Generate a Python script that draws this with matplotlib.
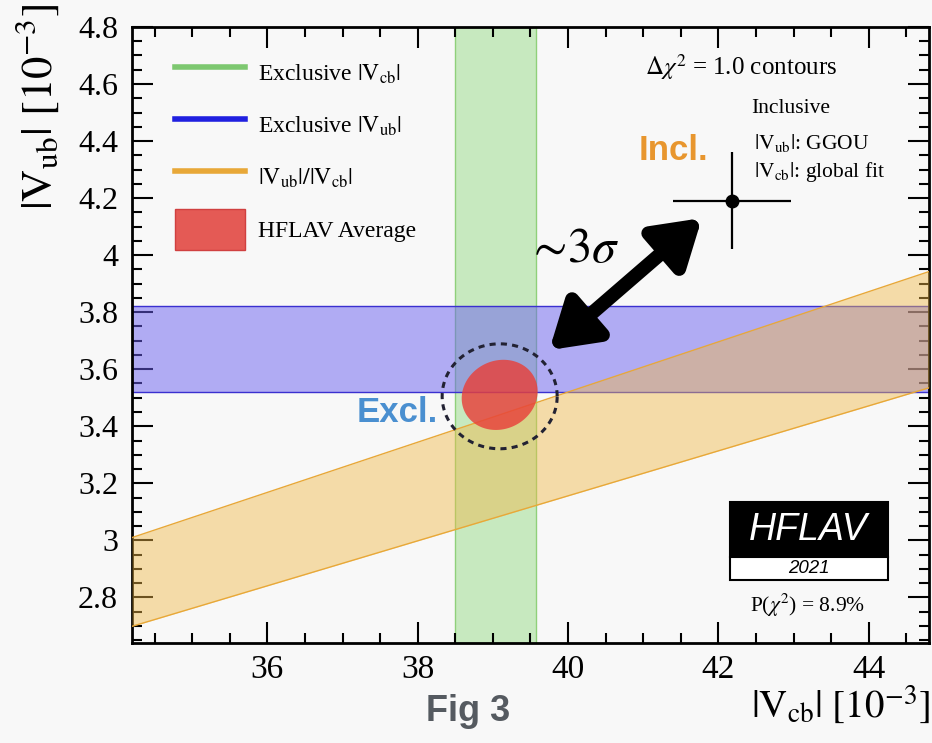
import numpy as np
import matplotlib
matplotlib.use("Agg")
import matplotlib.pyplot as plt
from matplotlib.lines import Line2D
from matplotlib.patches import Patch, Rectangle
from matplotlib.ticker import MultipleLocator, FuncFormatter

plt.rcParams['font.family'] = ['Liberation Serif', 'DejaVu Serif']
plt.rcParams['mathtext.fontset'] = 'stix'

# --- values (units of 1e-3) ---
vcb_excl = (38.49, 39.57)          # exclusive |Vcb| band
vub_excl = (3.52, 3.82)            # exclusive |Vub| band
ratio_band = (0.0789, 0.0880)      # |Vub|/|Vcb| band (lines through origin)
avg_center = (39.09, 3.51)         # HFLAV average
avg_sigma = (0.505, 0.123)
avg_rho = 0.1
circle_center = (39.09, 3.505)     # dashed "Excl." contour
circle_radius = (0.765, 0.184)
incl_point = (42.18, 4.19)         # inclusive
incl_err = (0.79, 0.17)
arrow_from = (39.75, 3.667)
arrow_to = (41.78, 4.130)

xlim = (34.2, 44.8)
ylim = (2.64, 4.8)

bg = '#f8f8f8'
fig = plt.figure(figsize=(9.32, 7.43), dpi=100, facecolor=bg)
ax = fig.add_axes([0.1416, 0.1346, 0.8552, 0.8291], facecolor=bg)
ax.set_xlim(*xlim)
ax.set_ylim(*ylim)

# bands
ax.axvspan(vcb_excl[0], vcb_excl[1], color='#7ed36a', alpha=0.4, lw=0, zorder=1)
ax.axvline(vcb_excl[0], color='#8fd07a', lw=1, zorder=1)
ax.axvline(vcb_excl[1], color='#8fd07a', lw=1, zorder=1)
ax.axhspan(vub_excl[0], vub_excl[1], color='#6a5ff0', alpha=0.5, lw=0, zorder=2)
ax.axhline(vub_excl[0], color='#3a30d0', lw=1, zorder=2)
ax.axhline(vub_excl[1], color='#3a30d0', lw=1, zorder=2)

xx = np.array(xlim)
ax.fill_between(xx, ratio_band[0] * xx, ratio_band[1] * xx,
                color='#f0b848', alpha=0.45, lw=0, zorder=3)
ax.plot(xx, ratio_band[0] * xx, color='#e8a838', lw=1, zorder=3)
ax.plot(xx, ratio_band[1] * xx, color='#e8a838', lw=1, zorder=3)

# HFLAV average ellipse
t = np.linspace(0, 2 * np.pi, 300)
ex = avg_center[0] + avg_sigma[0] * np.cos(t)
ey = avg_center[1] + avg_sigma[1] * (avg_rho * np.cos(t) + np.sqrt(1 - avg_rho ** 2) * np.sin(t))
ax.fill(ex, ey, color='#e8403a', alpha=0.82, lw=0, zorder=4)

# dashed contour
cx = circle_center[0] + circle_radius[0] * np.cos(t)
cy = circle_center[1] + circle_radius[1] * np.sin(t)
ax.plot(cx, cy, color='#222233', lw=2.2, ls=(0, (2.0, 1.7)), zorder=5)

# inclusive point
ax.errorbar([incl_point[0]], [incl_point[1]], xerr=[incl_err[0]], yerr=[incl_err[1]],
            fmt='o', color='black', ms=9, elinewidth=1.6, capsize=0, zorder=6)

# ~3 sigma arrow
ax.annotate('', xy=arrow_to, xytext=arrow_from,
            arrowprops=dict(arrowstyle='<|-|>,head_length=1.35,head_width=0.85',
                            lw=10, color='black', mutation_scale=20,
                            shrinkA=0, shrinkB=0), zorder=7)

# axes styling
for s in ax.spines.values():
    s.set_linewidth(2)
ax.xaxis.set_major_locator(MultipleLocator(2))
ax.xaxis.set_minor_locator(MultipleLocator(0.5))
ax.yaxis.set_major_locator(MultipleLocator(0.2))
ax.yaxis.set_minor_locator(MultipleLocator(0.05))
ax.yaxis.set_major_formatter(FuncFormatter(lambda v, p: '{:g}'.format(round(v, 2))))
ax.tick_params(which='both', direction='in', top=True, right=True, width=1.5)
ax.tick_params(which='major', length=15)
ax.tick_params(which='minor', length=7.5)
ax.tick_params(axis='x', which='major', labelsize=24, pad=8)
ax.tick_params(axis='y', which='major', labelsize=23, pad=10)

# legend
handles = [Line2D([], [], color='#7dc870', lw=4),
           Line2D([], [], color='#2020e0', lw=4),
           Line2D([], [], color='#e8a838', lw=4),
           Patch(facecolor='#e45a55', edgecolor='#d04040')]
labels = [r'Exclusive $|\mathrm{V}_{\mathrm{cb}}|$',
          r'Exclusive $|\mathrm{V}_{\mathrm{ub}}|$',
          r'$|\mathrm{V}_{\mathrm{ub}}|/|\mathrm{V}_{\mathrm{cb}}|$',
          'HFLAV Average']
ax.legend(handles, labels, loc='upper left', bbox_to_anchor=(0.054, 0.957),
          frameon=False, fontsize=17, handlelength=2.97, handleheight=2.24,
          handletextpad=0.55, labelspacing=0.5, borderpad=0, borderaxespad=0)

# annotations
ax.text(0.764, 0.935, r'$\Delta\chi^2$ = 1.0 contours', transform=ax.transAxes,
        ha='center', va='center', fontsize=18)
ax.text(0.827, 0.867, 'Inclusive', transform=ax.transAxes,
        ha='center', va='center', fontsize=15.5)
ax.text(0.780, 0.812, r'$|\mathrm{V}_{\mathrm{ub}}|$: GGOU', transform=ax.transAxes,
        ha='left', va='center', fontsize=15.5)
ax.text(0.780, 0.764, r'$|\mathrm{V}_{\mathrm{cb}}|$: global fit', transform=ax.transAxes,
        ha='left', va='center', fontsize=15.5)
ax.text(0.679, 0.800, 'Incl.', transform=ax.transAxes, ha='center', va='center',
        fontsize=25, fontweight='bold', color='#e8962e', family='Liberation Sans')
ax.text(0.3325, 0.3734, 'Excl.', transform=ax.transAxes, ha='center', va='center',
        fontsize=25, fontweight='bold', color='#4a8fd0', family='Liberation Sans')
ax.text(0.553, 0.638, r'$\sim\!3\sigma$', transform=ax.transAxes,
        ha='center', va='center', fontsize=35)

# HFLAV badge
ax.add_patch(Rectangle((0.750, 0.1396), 0.1986, 0.0893, transform=ax.transAxes,
                       facecolor='black', edgecolor='black', lw=1.5, zorder=8))
ax.add_patch(Rectangle((0.750, 0.1023), 0.1986, 0.0373, transform=ax.transAxes,
                       facecolor='white', edgecolor='black', lw=1.5, zorder=8))
ax.text(0.849, 0.1834, 'HFLAV', transform=ax.transAxes, ha='center', va='center',
        fontsize=27, style='italic', color='white', family='Liberation Sans', zorder=9)
ax.text(0.849, 0.1205, '2021', transform=ax.transAxes, ha='center', va='center',
        fontsize=13.5, style='italic', color='black', family='Liberation Sans', zorder=9)
ax.text(0.847, 0.0617, r'P($\chi^2$) = 8.9%', transform=ax.transAxes,
        ha='center', va='center', fontsize=15.5)

# axis titles
fig.text(0.998, 0.051, r'$|\mathrm{V}_{\mathrm{cb}}|\ [10^{-3}]$', ha='right', va='center',
         fontsize=28)
fig.text(0.040, 0.995, r'$|\mathrm{V}_{\mathrm{ub}}|\ [10^{-3}]$', ha='center', va='top',
         rotation=90, fontsize=32)
fig.text(0.502, 0.042, 'Fig 3', ha='center', va='center', fontsize=26,
         fontweight='bold', color='#555a60', family='Liberation Sans')

fig.savefig('out.png', dpi=100, facecolor=bg)
